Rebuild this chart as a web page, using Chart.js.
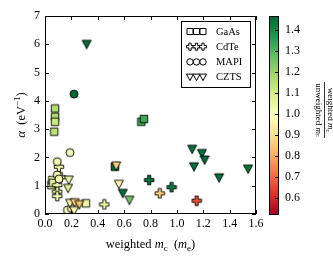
<!DOCTYPE html>
<html>
<head>
<meta charset="utf-8">
<script src="https://cdn.jsdelivr.net/npm/chart.js@4/dist/chart.umd.min.js"></script>
<style>
  body { margin: 0; background: #fff; }
  canvas { display: block; }
</style>
</head>
<body>
<canvas id="massChart" width="333" height="263"></canvas>
<script>
// Données : masse effective pondérée vs alpha
const gaasX = [0.076, 0.076, 0.076, 0.07, 0.73, 0.75, 0.53, 0.31, 0.048, 0.055, 0.062];
const gaasY = [3.73, 3.44, 3.26, 2.91, 3.26, 3.36, 1.67, 0.38, 1.02, 1.2, 1.1];
const gaasRatio = [1.17, 1.17, 1.12, 1.15, 1.32, 1.33, 1.46, 1.04, 1.05, 1.06, 1.04];

const cdteX = [0.45, 0.79, 0.87, 0.96, 1.15, 0.093, 0.093, 0.093, 0.106, 0.12];
const cdteY = [0.34, 1.2, 0.73, 0.95, 0.47, 1.02, 0.79, 0.63, 1.67, 1.3];
const cdteRatio = [1.04, 1.45, 0.85, 1.43, 0.66, 1.03, 1.04, 1.03, 1.03, 1.03];

const mapiX = [0.22, 0.19, 0.093, 0.093, 0.106, 0.17, 0.2];
const mapiY = [4.24, 2.17, 1.85, 1.38, 1.24, 0.14, 0.2];
const mapiRatio = [1.46, 1.02, 1.03, 1.02, 1.02, 1.0, 1.02];

const cztsX = [0.316, 0.18, 0.175, 0.19, 0.225, 0.26, 0.22, 0.54, 0.56, 0.59, 0.64, 1.116, 1.19, 1.21, 1.13, 1.32, 1.54];
const cztsY = [6.0, 1.2, 0.91, 0.38, 0.4, 0.33, 0.12, 1.7, 1.05, 0.73, 0.49, 2.29, 2.14, 1.91, 1.67, 1.28, 1.59];
const cztsRatio = [1.46, 1.05, 1.08, 0.95, 0.88, 0.84, 0.97, 0.86, 0.97, 1.45, 1.25, 1.45, 1.45, 1.46, 1.45, 1.45, 1.44];

const materials = ['GaAs', 'CdTe', 'MAPI', 'CZTS'];
const xTicks = [0, 0.2, 0.4, 0.6, 0.8, 1.0, 1.2, 1.4, 1.6];
const yTicks = [0, 1, 2, 3, 4, 5, 6, 7];
const cbarTicks = [0.6, 0.7, 0.8, 0.9, 1.0, 1.1, 1.2, 1.3, 1.4];
const cbarMin = 0.519;
const cbarMax = 1.467;

const SERIF = '"Liberation Serif", "DejaVu Serif", serif';

// Palette RdYlGn
const rdylgn = ['#a50026', '#d73027', '#f46d43', '#fdae61', '#fee08b', '#ffffbf',
                '#d9ef8b', '#a6d96a', '#66bd63', '#1a9850', '#006837'];

function hexToRgb(h) {
    return [parseInt(h.substr(1, 2), 16), parseInt(h.substr(3, 2), 16), parseInt(h.substr(5, 2), 16)];
}

function colorFor(v) {
    let t = (v - cbarMin) / (cbarMax - cbarMin);
    t = Math.max(0, Math.min(1, t)) * (rdylgn.length - 1);
    const i = Math.min(Math.floor(t), rdylgn.length - 2);
    const f = t - i;
    const a = hexToRgb(rdylgn[i]);
    const b = hexToRgb(rdylgn[i + 1]);
    const c = a.map((x, k) => Math.round(x + (b[k] - x) * f));
    return 'rgb(' + c.join(',') + ')';
}

/**
 * Tracé d'un marqueur façon matplotlib
 */
function traceShape(ctx, shape, cx, cy, s) {
    const h = s / 2;
    ctx.beginPath();
    if (shape === 'square') {
        ctx.rect(cx - h + 0.5, cy - h + 0.5, s - 1, s - 1);
    } else if (shape === 'circle') {
        ctx.arc(cx, cy, h - 0.3, 0, Math.PI * 2);
    } else if (shape === 'triangle') {
        ctx.moveTo(cx - h, cy - h + 0.5);
        ctx.lineTo(cx + h, cy - h + 0.5);
        ctx.lineTo(cx, cy + h);
        ctx.closePath();
    } else if (shape === 'plus') {
        const a = s / 6;
        const pts = [[-a, -h], [a, -h], [a, -a], [h, -a], [h, a], [a, a], [a, h], [-a, h], [-a, a], [-h, a], [-h, -a], [-a, -a]];
        pts.forEach((p, i) => i ? ctx.lineTo(cx + p[0], cy + p[1]) : ctx.moveTo(cx + p[0], cy + p[1]));
        ctx.closePath();
    }
}

const markerCache = {};
function markerImage(shape, color) {
    const key = shape + color;
    if (markerCache[key]) return markerCache[key];
    const sizes = { square: 8.5, circle: 8.6, triangle: 9, plus: 9.5 };
    const c = document.createElement('canvas');
    c.width = 12;
    c.height = 12;
    const g = c.getContext('2d');
    traceShape(g, shape, 6, 6, sizes[shape]);
    g.fillStyle = color;
    g.fill();
    g.lineWidth = 0.9;
    g.strokeStyle = '#000';
    g.stroke();
    markerCache[key] = c;
    return c;
}

function makeDataset(label, shape, xs, ys, ratios, order) {
    return {
        label: label,
        data: xs.map((x, i) => ({ x: x, y: ys[i] })),
        order: order,
        pointStyle: ctx => markerImage(shape, colorFor(ratios[ctx.dataIndex])),
        pointRadius: 5,
        showLine: false
    };
}

// Texte composé (italique, indices, exposants)
function drawRich(ctx, parts, x, y, align) {
    let total = 0;
    parts.forEach(p => { ctx.font = p.font; total += ctx.measureText(p.text).width; });
    let cx = align === 'center' ? x - total / 2 : x;
    parts.forEach(p => {
        ctx.font = p.font;
        ctx.fillText(p.text, cx, y + (p.dy || 0));
        cx += ctx.measureText(p.text).width;
    });
}

const decorPlugin = {
    id: 'decor',
    afterDraw(chart) {
        const ctx = chart.ctx;
        const area = chart.chartArea;
        const xs = chart.scales.x;
        const ys = chart.scales.y;
        ctx.save();
        ctx.strokeStyle = '#000';
        ctx.fillStyle = '#000';
        ctx.lineWidth = 1;

        // Cadre et graduations internes
        ctx.strokeRect(Math.round(area.left) + 0.5, Math.round(area.top) + 0.5,
            Math.round(area.right - area.left) - 1, Math.round(area.bottom - area.top) - 1);
        ctx.beginPath();
        xTicks.forEach(v => {
            const px = Math.round(xs.getPixelForValue(v)) + 0.5;
            ctx.moveTo(px, area.bottom); ctx.lineTo(px, area.bottom - 4);
            ctx.moveTo(px, area.top); ctx.lineTo(px, area.top + 4);
        });
        yTicks.forEach(v => {
            const py = Math.round(ys.getPixelForValue(v)) + 0.5;
            ctx.moveTo(area.left, py); ctx.lineTo(area.left + 4, py);
            ctx.moveTo(area.right, py); ctx.lineTo(area.right - 4, py);
        });
        ctx.stroke();

        // Légende
        const lx = 181, ly = 21, lw = 70, lh = 67;
        ctx.fillStyle = '#fff';
        ctx.fillRect(lx, ly, lw, lh);
        ctx.strokeRect(lx + 0.5, ly + 0.5, lw - 1, lh - 1);
        const shapes = ['square', 'plus', 'circle', 'triangle'];
        materials.forEach((name, i) => {
            const cy = 31.5 + i * 15.2;
            [190, 196.5, 203].forEach(mx => {
                traceShape(ctx, shapes[i], mx, cy, 7);
                ctx.fillStyle = '#fff';
                ctx.fill();
                ctx.stroke();
            });
            ctx.fillStyle = '#000';
            ctx.font = '10.5px ' + SERIF;
            ctx.textAlign = 'left';
            ctx.textBaseline = 'middle';
            ctx.fillText(name, 216, cy + 0.5);
        });

        // Titres des axes
        ctx.textBaseline = 'alphabetic';
        ctx.textAlign = 'left';
        const f = '12.5px ' + SERIF;
        const fi = 'italic 12.5px ' + SERIF;
        const fs = '9px ' + SERIF;
        drawRich(ctx, [
            { text: 'weighted ', font: f },
            { text: 'm', font: fi },
            { text: 'c', font: fs, dy: 2.5 },
            { text: '  (', font: f },
            { text: 'm', font: fi },
            { text: 'e', font: fs, dy: 2.5 },
            { text: ')', font: f }
        ], (area.left + area.right) / 2, 248, 'center');

        ctx.save();
        ctx.translate(25, (area.top + area.bottom) / 2);
        ctx.rotate(-Math.PI / 2);
        drawRich(ctx, [
            { text: 'α', font: 'italic 13px ' + SERIF },
            { text: '  (eV', font: f },
            { text: '−1', font: fs, dy: -5 },
            { text: ')', font: f }
        ], 0, 0, 'center');
        ctx.restore();

        // Barre de couleur
        const bx = 269, bw = 10, btop = 16, bbot = 215;
        const cbY = v => bbot - (v - cbarMin) / (cbarMax - cbarMin) * (bbot - btop);
        const grad = ctx.createLinearGradient(0, bbot, 0, btop);
        rdylgn.forEach((c, i) => grad.addColorStop(i / (rdylgn.length - 1), c));
        ctx.fillStyle = grad;
        ctx.fillRect(bx, btop, bw, bbot - btop);
        ctx.strokeRect(bx + 0.5, btop + 0.5, bw - 1, bbot - btop - 1);
        ctx.beginPath();
        cbarTicks.forEach(v => {
            const py = Math.round(cbY(v)) + 0.5;
            ctx.moveTo(bx + bw, py); ctx.lineTo(bx + bw - 4, py);
        });
        ctx.stroke();
        ctx.fillStyle = '#000';
        ctx.font = '12px ' + SERIF;
        ctx.textBaseline = 'middle';
        cbarTicks.forEach(v => ctx.fillText(v.toFixed(1), 285, cbY(v)));

        // Libellé de la barre : fraction verticale
        ctx.save();
        ctx.translate(325, 110);
        ctx.rotate(Math.PI / 2);
        ctx.beginPath();
        ctx.moveTo(-28, 0.5); ctx.lineTo(28, 0.5);
        ctx.lineWidth = 0.8;
        ctx.stroke();
        const g = '9px ' + SERIF, gi = 'italic 9px ' + SERIF, gs = '6.5px ' + SERIF;
        ctx.textBaseline = 'alphabetic';
        drawRich(ctx, [{ text: 'weighted ', font: g }, { text: 'm', font: gi }, { text: 'c', font: gs, dy: 2 }], 0, -2.5, 'center');
        ctx.textBaseline = 'top';
        drawRich(ctx, [{ text: 'unweighted ', font: g }, { text: 'm', font: gi }, { text: 'c', font: gs, dy: 2 }], 0, 2, 'center');
        ctx.restore();

        ctx.restore();
    }
};

new Chart(document.getElementById('massChart'), {
    type: 'scatter',
    data: {
        datasets: [
            makeDataset('GaAs', 'square', gaasX, gaasY, gaasRatio, 4),
            makeDataset('CdTe', 'plus', cdteX, cdteY, cdteRatio, 3),
            makeDataset('MAPI', 'circle', mapiX, mapiY, mapiRatio, 2),
            makeDataset('CZTS', 'triangle', cztsX, cztsY, cztsRatio, 1)
        ]
    },
    options: {
        responsive: false,
        devicePixelRatio: 1,
        animation: false,
        layout: { padding: { left: 0, top: 16, right: 77, bottom: 0 } },
        plugins: { legend: { display: false }, tooltip: { enabled: false } },
        scales: {
            x: {
                type: 'linear',
                min: 0,
                max: 1.6,
                afterFit: s => { s.height = 49; },
                afterBuildTicks: s => { s.ticks = xTicks.map(v => ({ value: v })); },
                grid: { display: false, drawTicks: false },
                border: { display: false },
                ticks: {
                    padding: 3,
                    color: '#000',
                    maxRotation: 0,
                    font: { family: SERIF, size: 12 },
                    callback: v => Number(v).toFixed(1)
                }
            },
            y: {
                type: 'linear',
                min: 0,
                max: 7,
                afterFit: s => { s.width = 45; },
                afterBuildTicks: s => { s.ticks = yTicks.map(v => ({ value: v })); },
                grid: { display: false, drawTicks: false },
                border: { display: false },
                ticks: {
                    padding: 5,
                    color: '#000',
                    font: { family: SERIF, size: 12 },
                    callback: v => String(v)
                }
            }
        }
    },
    plugins: [decorPlugin]
});
</script>
</body>
</html>
